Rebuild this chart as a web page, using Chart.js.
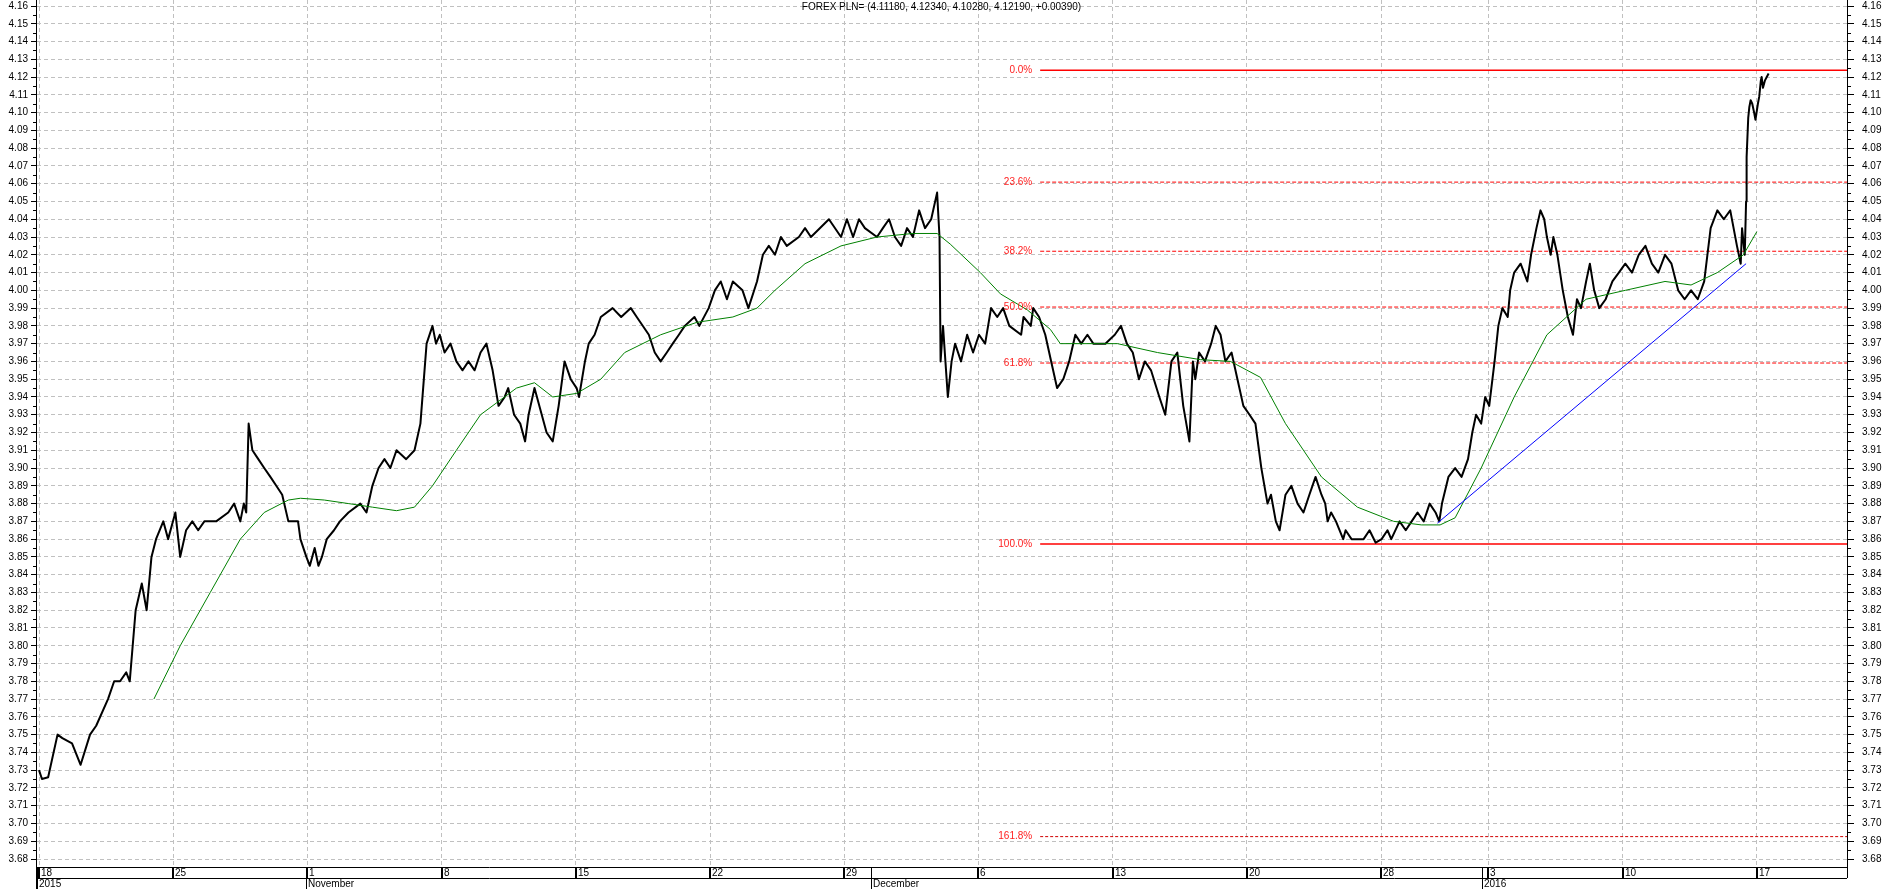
<!DOCTYPE html>
<html>
<head>
<meta charset="utf-8">
<script src="https://cdn.jsdelivr.net/npm/chart.js@4.4.1/dist/chart.umd.min.js"></script>
<style>
  html, body { margin: 0; padding: 0; background: #fff; }
  #wrap { width: 1883px; height: 889px; }
</style>
</head>
<body>
<div id="wrap"><canvas id="fx" width="1883" height="889"></canvas></div>
<script>
// trading days counted from Mon 19 Oct 2015, weekends removed
const priceDays = [0, 0.11, 0.34, 0.69, 0.87, 1.23, 1.55, 1.9, 2.13, 2.57, 2.8, 3.02, 3.25, 3.38, 3.6, 3.83, 4.01, 4.19, 4.36, 4.63, 4.81,
  5.08, 5.26, 5.48, 5.71, 5.93, 6.16, 6.6, 7.05, 7.27, 7.5, 7.63, 7.72, 7.81, 7.95, 8.17, 8.39, 8.62, 8.84, 9.06, 9.29, 9.65, 9.74, 9.96,
  10.09, 10.27, 10.41, 10.54, 10.72, 10.99, 11.21, 11.53, 11.97, 12.2, 12.42, 12.65, 12.87, 13.09, 13.32, 13.68, 13.99, 14.21, 14.44,
  14.66, 14.79, 14.93, 15.11, 15.33, 15.55, 15.78, 16, 16.23, 16.45, 16.67, 16.9, 17.12, 17.35, 17.48, 17.7, 17.93, 18.11, 18.24, 18.46,
  18.91, 19.14, 19.36, 19.58, 19.81, 20.03, 20.12, 20.34, 20.48, 20.7, 20.93, 21.37, 21.69, 22.05, 22.27, 22.72, 22.94, 23.16, 23.39,
  23.61, 23.84, 24.06, 24.42, 24.6, 24.95, 25.18, 25.4, 25.63, 25.85, 26.21, 26.43, 26.75, 26.97, 27.19, 27.42, 27.64, 27.86, 28.31,
  28.54, 28.76, 29.43, 29.88, 30.1, 30.33, 30.55, 30.77, 31.22, 31.44, 31.67, 31.89, 32.12, 32.34, 32.56, 32.79, 33.01, 33.24, 33.46,
  33.55, 33.59, 33.68, 33.77, 33.86, 34.0, 34.13, 34.35, 34.58, 34.8, 35.02, 35.25, 35.47, 35.7, 35.92, 36.15, 36.59, 36.68, 36.95,
  37.04, 37.26, 37.49, 37.71, 37.93, 38.16, 38.38, 38.61, 38.83, 39.06, 39.28, 39.73, 40.08, 40.31, 40.53, 40.75, 40.98, 41.2, 41.43,
  41.74, 41.96, 42.19, 42.41, 42.63, 42.86, 42.99, 43.08, 43.22, 43.44, 43.67, 43.84, 44.02, 44.2, 44.43, 44.65, 44.87, 45.1, 45.32,
  45.54, 45.77, 45.9, 46.08, 46.22, 46.44, 46.66, 46.89, 47.11, 47.33, 47.56, 47.78, 47.92, 48.01, 48.14, 48.32, 48.59, 48.68, 48.9,
  49.35, 49.57, 49.8, 50.02, 50.24, 50.38, 50.69, 50.92, 51.14, 51.36, 51.59, 51.81, 52.03, 52.17, 52.27, 52.51, 52.76, 53.0, 53.24,
  53.4, 53.54, 53.73, 53.88, 54.03, 54.23, 54.37, 54.52, 54.72, 54.81, 54.96, 55.2, 55.45, 55.59, 55.79, 55.94, 56.08, 56.18, 56.32,
  56.42, 56.57, 56.77, 56.96, 57.15, 57.3, 57.45, 57.64, 57.78, 57.94, 58.13, 58.37, 58.62, 58.86, 59.1, 59.35, 59.6, 59.85, 60.09,
  60.33, 60.58, 60.82, 61.07, 61.31, 61.55, 61.8, 62.04, 62.28, 62.53, 62.77, 63.01, 63.26, 63.4, 63.45, 63.55, 63.6, 63.62, 63.68,
  63.72, 63.77, 63.83, 63.9, 63.95, 63.99, 64.04, 64.09, 64.15, 64.18, 64.23, 64.3, 64.37, 64.44];
const priceValues = [3.73, 3.725, 3.726, 3.75, 3.748, 3.745, 3.733, 3.75, 3.755, 3.77, 3.78, 3.78, 3.785, 3.78, 3.82, 3.835, 3.82, 3.85, 3.86, 3.87, 3.86,
  3.875, 3.85, 3.865, 3.87, 3.865, 3.87, 3.87, 3.875, 3.88, 3.87, 3.88, 3.875, 3.925, 3.91, 3.905, 3.9, 3.895, 3.89, 3.885, 3.87, 3.87, 3.86, 3.85,
  3.845, 3.855, 3.845, 3.85, 3.86, 3.865, 3.87, 3.875, 3.88, 3.875, 3.89, 3.9, 3.905, 3.9, 3.91, 3.905, 3.91, 3.925, 3.97,
  3.98, 3.97, 3.975, 3.965, 3.97, 3.96, 3.955, 3.96, 3.955, 3.965, 3.97, 3.955, 3.935, 3.94, 3.945, 3.93, 3.925, 3.915, 3.93, 3.945,
  3.92, 3.915, 3.935, 3.96, 3.95, 3.945, 3.94, 3.96, 3.97, 3.975, 3.985, 3.99, 3.985, 3.99, 3.985, 3.975, 3.965, 3.96, 3.965,
  3.97, 3.975, 3.98, 3.985, 3.98, 3.99, 4.0, 4.005, 3.995, 4.005, 4.0, 3.99, 4.005, 4.02, 4.025, 4.02, 4.03, 4.025, 4.03,
  4.035, 4.03, 4.04, 4.03, 4.04, 4.03, 4.04, 4.035, 4.03, 4.035, 4.04, 4.03, 4.025, 4.035, 4.03, 4.045, 4.035, 4.04, 4.055,
  4.03, 3.96, 3.98, 3.96, 3.94, 3.96, 3.97, 3.96, 3.975, 3.965, 3.975, 3.97, 3.99, 3.985, 3.99, 3.98, 3.975, 3.985, 3.98,
  3.99, 3.985, 3.975, 3.96, 3.945, 3.95, 3.96, 3.975, 3.97, 3.975, 3.97, 3.97, 3.975, 3.98, 3.97, 3.965, 3.95, 3.96, 3.955,
  3.94, 3.93, 3.96, 3.965, 3.935, 3.915, 3.96, 3.95, 3.965, 3.96, 3.97, 3.98, 3.975, 3.96, 3.965, 3.95, 3.935, 3.93, 3.925,
  3.9, 3.88, 3.885, 3.87, 3.865, 3.885, 3.89, 3.88, 3.875, 3.885, 3.895, 3.885, 3.88, 3.87, 3.875, 3.87, 3.86, 3.865, 3.86,
  3.86, 3.865, 3.858, 3.86, 3.865, 3.86, 3.87, 3.865, 3.87, 3.875, 3.87, 3.88, 3.875, 3.87, 3.88, 3.895, 3.9, 3.895, 3.905,
  3.92, 3.93, 3.925, 3.94, 3.935, 3.96, 3.98, 3.99, 3.985, 4.0, 4.01, 4.015, 4.005, 4.02, 4.035, 4.045, 4.04, 4.03, 4.02,
  4.03, 4.02, 4.0, 3.985, 3.975, 3.995, 3.99, 4.005, 4.015, 4.0, 3.99, 3.995, 4.005, 4.01, 4.015, 4.01, 4.02, 4.025, 4.015,
  4.01, 4.02, 4.015, 4.0, 3.995, 4.0, 3.995, 4.005, 4.035, 4.045, 4.04, 4.045, 4.025, 4.015, 4.035, 4.02, 4.05, 4.075, 4.097,
  4.103, 4.107, 4.105, 4.1, 4.096, 4.1, 4.105, 4.109, 4.118, 4.12, 4.114, 4.118, 4.12, 4.122];

const maDays = [4.28, 5.26, 6.38, 7.5, 8.39, 9.29, 9.74, 10.63, 11.53, 12.42, 13.32, 13.99, 14.66, 15.55, 16.45, 17.79, 18.46, 19.14,
  20.03, 20.93, 21.82, 23.16, 24.51, 25.85, 26.75, 27.42, 28.54, 29.88, 31.22, 32.56, 33.46, 33.95, 35.07, 35.82, 36.82, 37.68,
  38.05, 40.18, 41.67, 43.27, 44.39, 45.51, 46.44, 47.78, 49.12, 50.47, 51.5, 52.2, 52.76, 53.73, 54.96, 56.18, 57.64, 59.1,
  60.58, 61.55, 62.53, 63.5, 64.0];
const maValues = [3.77, 3.8, 3.83, 3.86, 3.875, 3.882, 3.883, 3.882, 3.88, 3.878, 3.876, 3.878, 3.89, 3.91, 3.93, 3.945, 3.948, 3.94,
  3.942, 3.95, 3.965, 3.975, 3.982, 3.985, 3.99, 4.0, 4.015, 4.025, 4.03, 4.032, 4.032, 4.026, 4.01, 3.998, 3.989, 3.978,
  3.97, 3.97, 3.965, 3.961, 3.96, 3.951, 3.925, 3.895, 3.878, 3.87, 3.868, 3.868, 3.872, 3.9, 3.94, 3.975, 3.995, 4.0,
  4.005, 4.003, 4.01, 4.02, 4.033];

const trendDays = [52.1, 63.6];
const trendValues = [3.869, 4.015];

const fibLabels = ['0.0%', '23.6%', '38.2%', '50.0%', '61.8%', '100.0%', '161.8%'];
const fibLevels = [4.1238, 4.0609, 4.0220, 3.9906, 3.9591, 3.8573, 3.6926];
const fibStart = 37.3;

const weekLabels = ['18', '25', '1', '8', '15', '22', '29', '6', '13', '20', '28', '3', '10', '17'];
const weekDays = [0, 5, 10, 15, 20, 25, 30, 35, 40, 45, 50, 54, 59, 64];
const monthLabels = ['2015', 'November', 'December', '2016'];
const monthDays = [-0.05, 10, 31.05, 53.8];

const yTicks = [];
for (let i = 0; i <= 48; i++) yTicks.push(+(3.68 + i * 0.01).toFixed(2));

const title = 'FOREX PLN= (4.11180, 4.12340, 4.10280, 4.12190, +0.00390)';

const X_MIN = -0.075, X_MAX = 67.36;
const Y_MIN = 3.6755, Y_MAX = 4.16338;
const FONT = '"Liberation Sans Narrow", "Liberation Sans", Arial, sans-serif';

const toPoints = (xs, ys) => xs.map((x, i) => ({x: x, y: ys[i]}));

const fibSets = fibLevels.map((lvl, i) => {
  const solid = fibLabels[i] == '0.0%' || fibLabels[i] == '100.0%';
  const far = fibLabels[i] == '161.8%';
  return {
    label: fibLabels[i],
    data: [{x: fibStart, y: lvl}, {x: X_MAX, y: lvl}],
    borderColor: far ? '#d00000' : '#ff0000',
    borderWidth: solid ? 1.5 : 1,
    borderDash: solid ? [] : (far ? [3, 2] : [4, 2]),
    pointRadius: 0
  };
});

const chartText = {
  id: 'chartText',
  afterDraw(chart) {
    const ctx = chart.ctx;
    const a = chart.chartArea;
    const x = chart.scales.x;
    const y = chart.scales.y;
    ctx.save();

    // minor ticks on both axes
    ctx.strokeStyle = '#000';
    ctx.lineWidth = 1;
    ctx.beginPath();
    for (let i = 0; i < yTicks.length - 1; i++) {
      const py = Math.round(y.getPixelForValue(yTicks[i] + 0.005)) + 0.5;
      ctx.moveTo(a.left - 4, py); ctx.lineTo(a.left, py);
      ctx.moveTo(a.right, py); ctx.lineTo(a.right + 4, py);
    }
    ctx.stroke();

    // frame
    ctx.beginPath();
    ctx.moveTo(a.left - 0.5, 0); ctx.lineTo(a.left - 0.5, 889);
    ctx.moveTo(a.right + 0.5, 0); ctx.lineTo(a.right + 0.5, a.bottom + 11);
    ctx.moveTo(a.left, a.bottom + 0.5); ctx.lineTo(a.right, a.bottom + 0.5);
    ctx.moveTo(a.left, a.bottom + 11.5); ctx.lineTo(a.right, a.bottom + 11.5);
    ctx.stroke();

    // week ticks and labels
    ctx.font = '10px ' + FONT;
    ctx.fillStyle = '#000';
    ctx.textBaseline = 'middle';
    ctx.textAlign = 'left';
    weekDays.forEach((d, i) => {
      const px = Math.round(x.getPixelForValue(d));
      ctx.fillRect(px - 1, a.bottom, 2, 11);
      ctx.fillText(weekLabels[i], px + 2, a.bottom + 6.5);
    });

    // month dividers and labels
    monthDays.forEach((d, i) => {
      const px = Math.round(x.getPixelForValue(d));
      ctx.fillRect(px - 1, a.bottom, 1, 22);
      ctx.fillText(monthLabels[i], px + 1, a.bottom + 17);
    });

    // fibonacci labels
    ctx.fillStyle = '#ff2020';
    ctx.textAlign = 'right';
    const fx = x.getPixelForValue(fibStart) - 8;
    fibLevels.forEach((lvl, i) => {
      ctx.fillText(fibLabels[i], fx, y.getPixelForValue(lvl));
    });

    // title
    ctx.fillStyle = '#000';
    ctx.textAlign = 'center';
    ctx.fillText(title, chart.width / 2, 7);
    ctx.restore();
  }
};

const yAxis = (pos) => ({
  type: 'linear',
  position: pos,
  min: Y_MIN,
  max: Y_MAX,
  afterBuildTicks: (s) => { s.ticks = yTicks.map(v => ({value: v})); },
  afterFit: (s) => {
    s.width = pos == 'left' ? 37 : 36;
    s.paddingTop = 0;
    s.paddingBottom = 0;
  },
  border: {display: false, dash: [4, 3]},
  grid: {
    drawOnChartArea: pos == 'left',
    color: '#c0c0c0',
    lineWidth: 1,
    drawTicks: true,
    tickLength: pos == 'left' ? 6 : 7,
    tickColor: '#000',
    tickWidth: 1
  },
  ticks: {
    autoSkip: false,
    padding: pos == 'left' ? 3 : 8,
    color: '#000',
    font: {family: FONT, size: 10},
    callback: (v) => v.toFixed(2)
  }
});

const ctx = document.getElementById('fx').getContext('2d');
let fxChart = new Chart(ctx, {
  type: 'line',
  data: {
    datasets: [
      {
        label: 'trend',
        data: toPoints(trendDays, trendValues),
        borderColor: '#0000ff',
        borderWidth: 1,
        pointRadius: 0
      },
      {
        label: 'average',
        data: toPoints(maDays, maValues),
        borderColor: '#008000',
        borderWidth: 1,
        pointRadius: 0
      },
      {
        label: 'PLN=',
        data: toPoints(priceDays, priceValues),
        borderColor: '#000000',
        borderWidth: 2,
        borderJoinStyle: 'round',
        pointRadius: 0
      },
      ...fibSets
    ]
  },
  options: {
    responsive: false,
    animation: false,
    devicePixelRatio: 1,
    layout: {padding: 0},
    plugins: {legend: {display: false}, tooltip: {enabled: false}, title: {display: false}},
    scales: {
      x: {
        type: 'linear',
        min: X_MIN,
        max: X_MAX,
        afterBuildTicks: (s) => { s.ticks = weekDays.map(v => ({value: v})); },
        afterFit: (s) => { s.height = 22; s.paddingLeft = 0; s.paddingRight = 0; },
        border: {display: false, dash: [4, 3]},
        grid: {color: '#c0c0c0', lineWidth: 1, drawTicks: false},
        ticks: {display: false}
      },
      y: yAxis('left'),
      y2: yAxis('right')
    }
  },
  plugins: [chartText]
});
</script>
</body>
</html>
